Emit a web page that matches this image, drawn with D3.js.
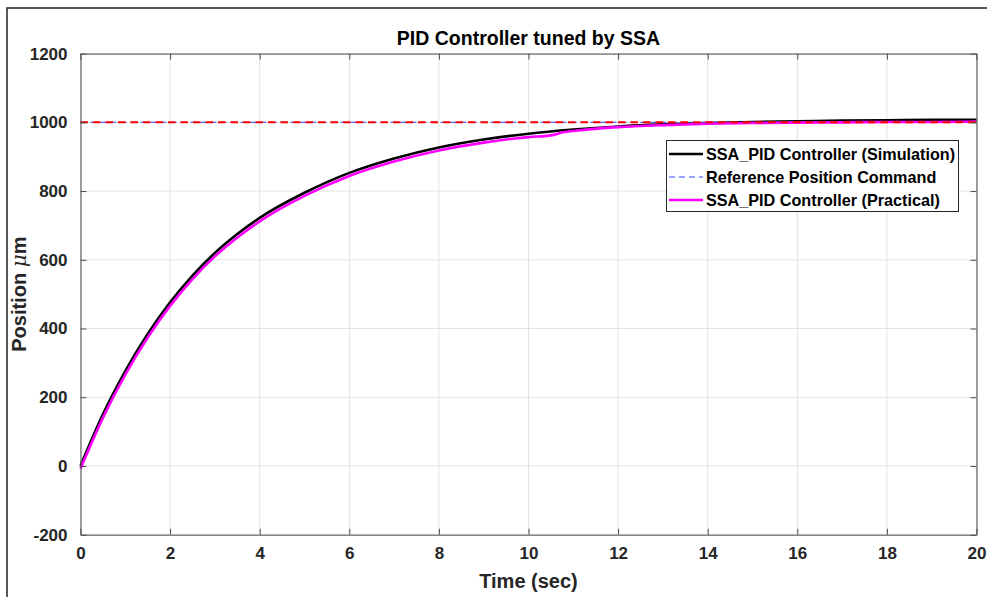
<!DOCTYPE html>
<html>
<head>
<meta charset="utf-8">
<script src="https://cdn.jsdelivr.net/npm/d3@7"></script>
<style>
  html, body { margin: 0; padding: 0; background: #fff; }
  svg { display: block; font-family: "Liberation Sans", Arial, sans-serif; }
</style>
</head>
<body>
<div id="chart"></div>
<script>
  // values
  const simT = [0, 0.5, 1, 1.5, 2, 2.5, 3, 3.5, 4, 5, 6, 7, 8, 9, 10, 11, 12, 13, 14, 15, 16, 17, 18, 19, 20];
  const simY = [0, 150, 276, 384, 476, 554, 620, 675, 722, 795, 853, 895, 927, 950, 967, 979, 988, 994, 998, 1001, 1003, 1005, 1006, 1007, 1007];

  const pracT = [0, 0.5, 1, 1.5, 2, 2.5, 3, 3.5, 4, 5, 6, 7, 8, 9, 10, 10.5, 10.8, 11, 12, 13, 14, 15, 16, 17, 18, 19, 20];
  const pracY = [-8, 140, 266, 374, 466, 544, 610, 665, 712, 786, 844, 886, 918, 941, 957, 962, 972, 975, 986, 992, 996, 998, 999, 1000, 1001, 1001, 1002];

  const refT = [0, 20];
  const refY = [1000, 1000];

  const xTicks = [0, 2, 4, 6, 8, 10, 12, 14, 16, 18, 20];
  const yTicks = [-200, 0, 200, 400, 600, 800, 1000, 1200];

  const legendLabels = [
    'SSA_PID Controller (Simulation)',
    'Reference Position Command',
    'SSA_PID Controller (Practical)'
  ];

  const W = 987, H = 597;
  const m = { left: 80.5, top: 53.6, right: 976.5, bottom: 534.7 };

  const svg = d3.select('#chart').append('svg')
    .attr('width', W)
    .attr('height', H);

  // outer figure frame
  svg.append('rect')
    .attr('x', 7).attr('y', 8)
    .attr('width', W + 10).attr('height', H + 10)
    .attr('fill', '#fff')
    .attr('stroke', '#222')
    .attr('stroke-width', 1.5);

  const x = d3.scaleLinear().domain([0, 20]).range([m.left, m.right]);
  const y = d3.scaleLinear().domain([-200, 1200]).range([m.bottom, m.top]);

  const numFmt = d => String(d); // plain hyphen, no thousands comma

  // grid
  const grid = svg.append('g');
  grid.selectAll('.vg').data(xTicks).enter().append('line')
    .attr('x1', d => x(d)).attr('x2', d => x(d))
    .attr('y1', m.top).attr('y2', m.bottom)
    .attr('stroke', '#e3e3e3').attr('stroke-width', 1);
  grid.selectAll('.hg').data(yTicks).enter().append('line')
    .attr('x1', m.left).attr('x2', m.right)
    .attr('y1', d => y(d)).attr('y2', d => y(d))
    .attr('stroke', '#e3e3e3').attr('stroke-width', 1);

  // lines
  const line = d3.line()
    .x(d => x(d[0]))
    .y(d => y(d[1]))
    .curve(d3.curveMonotoneX);

  const simData = simT.map((t, i) => [t, simY[i]]);
  const pracData = pracT.map((t, i) => [t, pracY[i]]);
  const refData = refT.map((t, i) => [t, refY[i]]);

  const plot = svg.append('g');

  plot.append('path')
    .attr('d', line(simData))
    .attr('fill', 'none')
    .attr('stroke', '#000')
    .attr('stroke-width', 2.6);

  plot.append('path')
    .attr('d', line(refData))
    .attr('fill', 'none')
    .attr('stroke', '#3344ff')
    .attr('stroke-width', 1)
    .attr('stroke-dasharray', '6,4');

  plot.append('path')
    .attr('d', line(pracData))
    .attr('fill', 'none')
    .attr('stroke', '#ff00ff')
    .attr('stroke-width', 2.6);

  // red command line on top
  plot.append('path')
    .attr('d', line(refData))
    .attr('fill', 'none')
    .attr('stroke', '#ff0000')
    .attr('stroke-width', 2)
    .attr('stroke-dasharray', '7.5,5');

  // axes box with inward ticks
  const axisColor = '#4d4d4d';
  const tickLen = 6;

  const styleTicks = g => {
    g.select('.domain').attr('stroke', axisColor);
    g.selectAll('.tick line').attr('stroke', axisColor);
    g.selectAll('.tick text')
      .attr('fill', '#262626')
      .attr('font-size', 17)
      .attr('font-weight', 'bold')
      .attr('font-family', '"Liberation Sans", Arial, sans-serif');
  };

  svg.append('g')
    .attr('transform', `translate(0,${m.bottom})`)
    .call(d3.axisBottom(x).tickValues(xTicks).tickFormat(numFmt)
      .tickSizeInner(-tickLen).tickSizeOuter(0).tickPadding(12))
    .call(styleTicks);

  svg.append('g')
    .attr('transform', `translate(${m.left},0)`)
    .call(d3.axisLeft(y).tickValues(yTicks).tickFormat(numFmt)
      .tickSizeInner(-tickLen).tickSizeOuter(0).tickPadding(13))
    .call(styleTicks);

  svg.append('g')
    .attr('transform', `translate(0,${m.top})`)
    .call(d3.axisTop(x).tickValues(xTicks).tickSizeInner(-tickLen).tickSizeOuter(0).tickFormat(''))
    .call(styleTicks);

  svg.append('g')
    .attr('transform', `translate(${m.right},0)`)
    .call(d3.axisRight(y).tickValues(yTicks).tickSizeInner(-tickLen).tickSizeOuter(0).tickFormat(''))
    .call(styleTicks);

  // title and axis labels
  svg.append('text')
    .attr('x', (m.left + m.right) / 2)
    .attr('y', 45)
    .attr('text-anchor', 'middle')
    .attr('font-size', 19.5)
    .attr('font-weight', 'bold')
    .attr('fill', '#000')
    .text('PID Controller tuned by SSA');

  svg.append('text')
    .attr('x', (m.left + m.right) / 2)
    .attr('y', 588)
    .attr('text-anchor', 'middle')
    .attr('font-size', 20)
    .attr('font-weight', 'bold')
    .attr('fill', '#262626')
    .text('Time (sec)');

  const yl = svg.append('text')
    .attr('transform', `translate(26,${(m.top + m.bottom) / 2}) rotate(-90)`)
    .attr('text-anchor', 'middle')
    .attr('font-size', 20)
    .attr('font-weight', 'bold')
    .attr('fill', '#262626');
  yl.append('tspan').text('Position ');
  yl.append('tspan')
    .attr('font-family', '"DejaVu Serif", "Liberation Serif", serif')
    .attr('font-style', 'italic')
    .attr('font-weight', 'normal')
    .text('μ');
  yl.append('tspan').text('m');

  // legend
  const lg = svg.append('g');
  lg.append('rect')
    .attr('x', 666.5).attr('y', 140.5)
    .attr('width', 292).attr('height', 71)
    .attr('fill', '#fff')
    .attr('stroke', '#262626')
    .attr('stroke-width', 1);

  const legendStyles = [
    { color: '#000', width: 2.6, dash: null },
    { color: '#3344ff', width: 1, dash: '6,4' },
    { color: '#ff00ff', width: 2.6, dash: null }
  ];

  legendLabels.forEach((lab, i) => {
    const cy = 154 + i * 23;
    lg.append('line')
      .attr('x1', 669).attr('x2', 703)
      .attr('y1', cy).attr('y2', cy)
      .attr('stroke', legendStyles[i].color)
      .attr('stroke-width', legendStyles[i].width)
      .attr('stroke-dasharray', legendStyles[i].dash);
    lg.append('text')
      .attr('x', 706)
      .attr('y', cy + 6)
      .attr('font-size', 16.2)
      .attr('font-weight', 'bold')
      .attr('fill', '#000')
      .text(lab);
  });
</script>
</body>
</html>
